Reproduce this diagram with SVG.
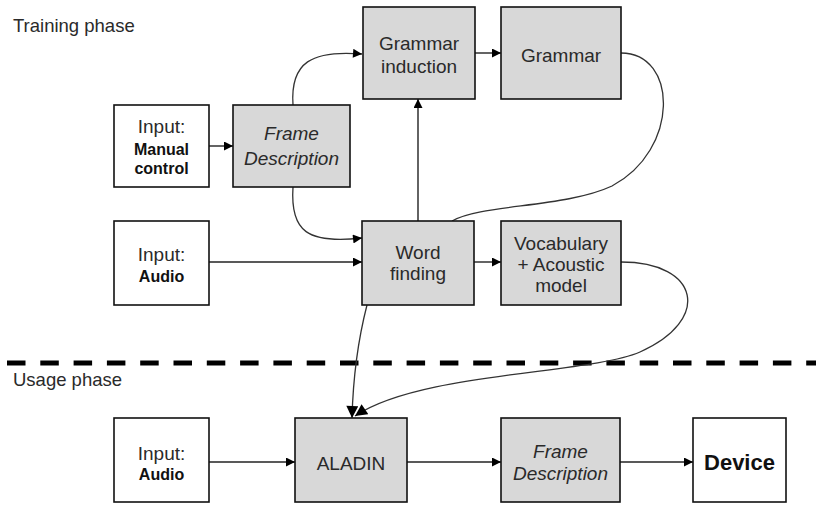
<svg xmlns="http://www.w3.org/2000/svg" width="816" height="505" viewBox="0 0 816 505">
<style>
.box{stroke:#111;stroke-width:1.6;}
.g{fill:#d8d8d8;}
.w{fill:#fff;}
text{font-family:"Liberation Sans",Arial,sans-serif;fill:#2a2a2a;text-anchor:middle;}
.t{font-size:19px;}
.b{font-size:16px;font-weight:bold;fill:#111;}
.i{font-size:19px;font-style:italic;}
.lbl{font-size:18.5px;text-anchor:start;}
.c{fill:none;stroke:#222;stroke-width:1.4;}
.cv{fill:none;stroke:#333;stroke-width:1.3;}
</style>
<defs>
<marker id="ah" viewBox="0 0 10 10" refX="10" refY="5" markerWidth="10" markerHeight="9" markerUnits="userSpaceOnUse" orient="auto">
<path d="M0,0 L10,5 L0,10 z" fill="#000"/>
</marker>
<marker id="ah2" viewBox="0 0 10 10" refX="10" refY="5" markerWidth="13" markerHeight="12" markerUnits="userSpaceOnUse" orient="auto">
<path d="M0,0 L10,5 L0,10 z" fill="#000"/>
</marker>
</defs>
<rect width="816" height="505" fill="#fff"/>

<text class="lbl" x="13" y="32">Training phase</text>
<text class="lbl" x="13" y="386">Usage phase</text>
<line x1="7" y1="363" x2="816" y2="363" stroke="#000" stroke-width="5" stroke-dasharray="18.5 14.8"/>

<g id="connectors">
<line class="c" x1="209" y1="146" x2="233" y2="146" marker-end="url(#ah)"/>
<path class="cv" d="M293,105 C290,62 312,50 362,54" marker-end="url(#ah)"/>
<path class="cv" d="M293,187 C290,232 308,244 362,238" marker-end="url(#ah)"/>
<line class="c" x1="475" y1="53" x2="501" y2="53" marker-end="url(#ah)"/>
<line class="c" x1="418" y1="221" x2="418" y2="99" marker-end="url(#ah)"/>
<path class="cv" d="M621,53 C678,53 680,150 612,186 C565,208 480,204 452,221"/>
<line class="c" x1="209" y1="262" x2="362" y2="262" marker-end="url(#ah)"/>
<line class="c" x1="474" y1="262" x2="501" y2="262" marker-end="url(#ah)"/>
<path class="cv" d="M621,262 C700,262 712,320 640,352 C590,374 420,372 355,416" marker-end="url(#ah2)"/>
<path class="cv" d="M367,305 C358,340 353,380 352,418" marker-end="url(#ah2)"/>
<line class="c" x1="209" y1="462" x2="295" y2="462" marker-end="url(#ah)"/>
<line class="c" x1="407" y1="462" x2="501" y2="462" marker-end="url(#ah)"/>
<line class="c" x1="620" y1="462" x2="693" y2="462" marker-end="url(#ah)"/>
</g>

<g id="input-manual">
<rect class="box w" x="114" y="105" width="95" height="82"/>
<text class="t" x="161.5" y="133">Input:</text>
<text class="b" x="161.5" y="155">Manual</text>
<text class="b" x="161.5" y="174">control</text>
</g>
<g id="frame-desc-1">
<rect class="box g" x="233" y="105" width="117" height="82"/>
<text class="i" x="291.5" y="140">Frame</text>
<text class="i" x="291.5" y="165">Description</text>
</g>
<g id="grammar-induction">
<rect class="box g" x="363" y="7" width="112" height="92"/>
<text class="t" x="419" y="50">Grammar</text>
<text class="t" x="419" y="73">induction</text>
</g>
<g id="grammar">
<rect class="box g" x="501" y="7" width="120" height="92"/>
<text class="t" x="561" y="62">Grammar</text>
</g>
<g id="input-audio-1">
<rect class="box w" x="114" y="221" width="95" height="84"/>
<text class="t" x="161.5" y="261">Input:</text>
<text class="b" x="161.5" y="282">Audio</text>
</g>
<g id="word-finding">
<rect class="box g" x="362" y="221" width="112" height="84"/>
<text class="t" x="418" y="259">Word</text>
<text class="t" x="418" y="280">finding</text>
</g>
<g id="vocab">
<rect class="box g" x="501" y="221" width="120" height="84"/>
<text class="t" x="561" y="250">Vocabulary</text>
<text class="t" x="561" y="271">+ Acoustic</text>
<text class="t" x="561" y="292">model</text>
</g>
<g id="input-audio-2">
<rect class="box w" x="114" y="418" width="95" height="84"/>
<text class="t" x="161.5" y="460">Input:</text>
<text class="b" x="161.5" y="480">Audio</text>
</g>
<g id="aladin">
<rect class="box g" x="295" y="418" width="112" height="84"/>
<text class="t" x="351" y="470">ALADIN</text>
</g>
<g id="frame-desc-2">
<rect class="box g" x="501" y="418" width="119" height="84"/>
<text class="i" x="560.5" y="458">Frame</text>
<text class="i" x="560.5" y="480">Description</text>
</g>
<g id="device">
<rect class="box w" x="693" y="418" width="93" height="84"/>
<text x="739.5" y="470" style="font-size:22px;font-weight:bold;fill:#111">Device</text>
</g>
</svg>
